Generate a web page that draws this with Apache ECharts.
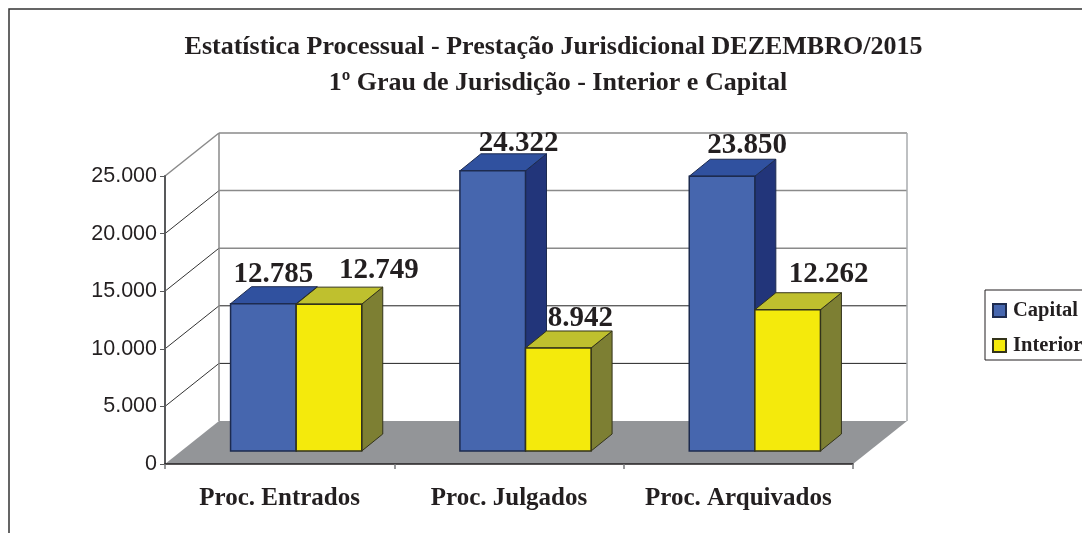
<!DOCTYPE html>
<html>
<head>
<meta charset="utf-8">
<style>
  html, body { margin: 0; padding: 0; background: #fff; overflow: hidden; }
  #chart { width: 1082px; height: 533px; }
</style>
<script src="https://cdn.jsdelivr.net/npm/echarts@6/dist/echarts.min.js"></script>
</head>
<body>
<div id="chart"></div>
<script>
const categories = ['Proc. Entrados', 'Proc. Julgados', 'Proc. Arquivados']
const capitalValues = [12785, 24322, 23850]
const interiorValues = [12749, 8942, 12262]
const yTicks = [0, 5000, 10000, 15000, 20000, 25000]

// profundidade da caixa 3D e dos blocos, em pixels
const WALL_DX = 54
const WALL_DY = 43
const BAR_BASE_DX = 16.5
const BAR_BASE_DY = 13
const BAR_DX = 21
const BAR_DY = 17
const BAR_RATIO = 0.286

const serif = '"Liberation Serif"'
const faces = {
  Capital: { front: '#4666ae', top: '#30519f', side: '#22357a', line: '#1d2b4f' },
  Interior: { front: '#f4ea0c', top: '#bfc02e', side: '#7d7f33', line: '#33331a' }
}
// deslocamento dos rótulos em relação ao bloco
const labelShift = {
  Capital: [[10, 21], [26, 19], [25, 22]],
  Interior: [[50, 25], [22, 21], [41, 27]]
}

const fmt = v => String(v).replace(/\B(?=(\d{3})+$)/g, '.')
const poly = (points, fill, stroke, width) => ({
  type: 'polygon',
  shape: { points },
  style: { fill, stroke, lineWidth: width }
})

function renderFloor(params, api) {
  const a = api.coord([0, 0])
  const band = api.size([1, 0])[0]
  const x0 = a[0] - band / 2
  const x1 = x0 + band * categories.length
  const y = a[1]
  return poly([[x0, y], [x1, y], [x1 + WALL_DX, y - WALL_DY], [x0 + WALL_DX, y - WALL_DY]], '#939598', null, 0)
}

function renderWall(params, api) {
  const a = api.coord([0, api.value(0)])
  const band = api.size([1, 0])[0]
  const x0 = a[0] - band / 2
  const x1 = x0 + band * categories.length
  const y = a[1]
  const v = api.value(0)
  const children = []
  if (v > 0) {
    children.push({
      type: 'polyline',
      shape: { points: [[x0, y], [x0 + WALL_DX, y - WALL_DY]] },
      style: { fill: null, stroke: v === 25000 ? '#8a8a8a' : '#333', lineWidth: v === 25000 ? 1.5 : 1 }
    })
    children.push({
      type: 'polyline',
      shape: { points: [[x0 + WALL_DX, y - WALL_DY], [x1 + WALL_DX, y - WALL_DY]] },
      style: { fill: null, stroke: v >= 15000 ? '#8a8a8a' : '#222', lineWidth: v >= 15000 ? 1.5 : 1 }
    })
  }
  if (v === 25000) {
    const bottom = api.coord([0, 0])[1]
    children.push({
      type: 'line',
      shape: { x1: x0 + WALL_DX, y1: y - WALL_DY, x2: x0 + WALL_DX, y2: bottom - WALL_DY },
      style: { stroke: '#8a8a8a', lineWidth: 1.5 }
    })
    children.push({
      type: 'line',
      shape: { x1: x1 + WALL_DX, y1: y - WALL_DY, x2: x1 + WALL_DX, y2: bottom - WALL_DY },
      style: { stroke: '#a9abae', lineWidth: 1.5 }
    })
  }
  return { type: 'group', children }
}

function renderBar(params, api) {
  const idx = api.value(0)
  const val = api.value(1)
  const name = params.seriesName
  const f = faces[name]
  const top = api.coord([idx, val])
  const base = api.coord([idx, 0])
  const w = api.size([1, 0])[0] * BAR_RATIO
  const xl = base[0] + BAR_BASE_DX + (name === 'Capital' ? -w : 0)
  const xr = xl + w
  const yb = base[1] - BAR_BASE_DY
  const yt = top[1] - BAR_BASE_DY
  const shift = labelShift[name][idx]
  return {
    type: 'group',
    children: [
      poly([[xr, yb], [xr + BAR_DX, yb - BAR_DY], [xr + BAR_DX, yt - BAR_DY], [xr, yt]], f.side, f.line, 1),
      poly([[xl, yt], [xr, yt], [xr + BAR_DX, yt - BAR_DY], [xl + BAR_DX, yt - BAR_DY]], f.top, f.line, 1),
      poly([[xl, yb], [xr, yb], [xr, yt], [xl, yt]], f.front, f.line, 1.5),
      {
        type: 'text',
        z2: 10,
        style: {
          x: (xl + xr) / 2 + shift[0],
          y: yt - shift[1] + 6,
          text: fmt(val),
          fill: '#231f20',
          font: 'bold 29px ' + serif,
          textAlign: 'center',
          textVerticalAlign: 'bottom'
        }
      }
    ]
  }
}

const chart = echarts.init(document.getElementById('chart'))
chart.setOption({
  backgroundColor: '#fff',
  animation: false,
  title: [
    {
      text: 'Estatística Processual - Prestação Jurisdicional DEZEMBRO/2015',
      left: 548.5, top: 29, textAlign: 'center',
      textStyle: { fontFamily: serif, fontWeight: 'bold', fontSize: 26, color: '#231f20' }
    },
    {
      text: '1º Grau de Jurisdição - Interior e Capital',
      left: 553, top: 65, textAlign: 'center',
      textStyle: { fontFamily: serif, fontWeight: 'bold', fontSize: 26, color: '#231f20' }
    }
  ],
  legend: {
    data: ['Capital', 'Interior'],
    orient: 'vertical',
    left: 985,
    top: 290,
    padding: [10, 7, 4, 7],
    itemGap: 14,
    itemWidth: 13,
    itemHeight: 13,
    icon: 'rect',
    align: 'left',
    borderColor: '#231f20',
    borderWidth: 1,
    borderRadius: 0,
    textStyle: { fontFamily: serif, fontWeight: 'bold', fontSize: 20.5, color: '#231f20', padding: [0, 0, 0, 2] }
  },
  grid: { left: 165, right: 229, top: 176, bottom: 69 },
  xAxis: {
    type: 'category',
    data: categories,
    z: 3,
    axisLine: { lineStyle: { color: '#231f20', width: 1.5 } },
    axisTick: { show: true, interval: 0, length: 5, lineStyle: { color: '#77787b', width: 1.5 } },
    axisLabel: { interval: 0, margin: 22, fontFamily: serif, fontWeight: 'bold', fontSize: 25, color: '#231f20' }
  },
  yAxis: {
    type: 'value',
    min: 0,
    max: 25000,
    interval: 5000,
    z: 3,
    axisLine: { show: true, lineStyle: { color: '#58595b', width: 2 } },
    axisTick: { show: true, length: 5, lineStyle: { color: '#58595b' } },
    splitLine: { show: false },
    axisLabel: {
      margin: 8,
      fontFamily: '"Liberation Sans"',
      fontSize: 21.5,
      color: '#231f20',
      formatter: v => fmt(v)
    }
  },
  series: [
    { name: 'piso', type: 'custom', silent: true, renderItem: renderFloor, data: [0] },
    {
      name: 'paredes',
      type: 'custom',
      silent: true,
      renderItem: renderWall,
      encode: { y: 0 },
      data: yTicks
    },
    {
      name: 'Capital',
      type: 'custom',
      renderItem: renderBar,
      itemStyle: { color: faces.Capital.front, borderColor: faces.Capital.line, borderWidth: 1 },
      encode: { x: 0, y: 1 },
      data: capitalValues.map((v, i) => [i, v])
    },
    {
      name: 'Interior',
      type: 'custom',
      renderItem: renderBar,
      itemStyle: { color: faces.Interior.front, borderColor: faces.Interior.line, borderWidth: 1 },
      encode: { x: 0, y: 1 },
      data: interiorValues.map((v, i) => [i, v])
    }
  ],
  graphic: [
    {
      type: 'polyline',
      shape: { points: [[9, 533], [9, 9], [1082, 9]] },
      style: { fill: null, stroke: '#333', lineWidth: 1.5 }
    }
  ]
})
</script>
</body>
</html>
